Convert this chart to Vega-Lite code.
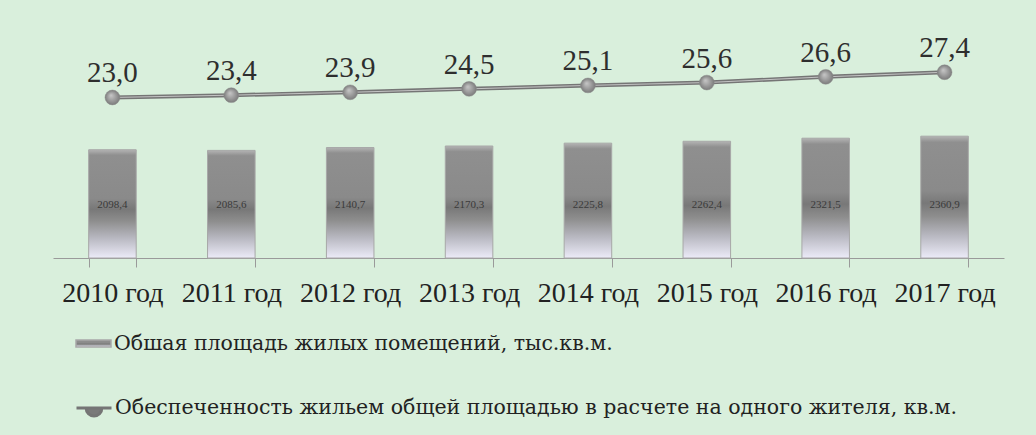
{
  "$schema": "https://vega.github.io/schema/vega-lite/v6.json",
  "width": 951,
  "height": 258,
  "autosize": {"type": "none"},
  "padding": {"left": 53, "top": 0, "right": 32, "bottom": 177},
  "background": "#d9efdc",
  "config": {
    "view": {"stroke": null},
    "font": "Liberation Serif",
    "locale": {"number": {"decimal": ",", "thousands": "", "grouping": [3], "currency": ["", ""]}}
  },
  "data": {
    "values": [
      {"year": "2010 год", "area": 2098.4, "per": 23.0},
      {"year": "2011 год", "area": 2085.6, "per": 23.4},
      {"year": "2012 год", "area": 2140.7, "per": 23.9},
      {"year": "2013 год", "area": 2170.3, "per": 24.5},
      {"year": "2014 год", "area": 2225.8, "per": 25.1},
      {"year": "2015 год", "area": 2262.4, "per": 25.6},
      {"year": "2016 год", "area": 2321.5, "per": 26.6},
      {"year": "2017 год", "area": 2360.9, "per": 27.4}
    ]
  },
  "encoding": {
    "x": {
      "field": "year",
      "type": "nominal",
      "sort": null,
      "scale": {"paddingInner": 0.6, "paddingOuter": 0.3},
      "axis": {
        "title": null,
        "labelFontSize": 28,
        "labelFont": "Liberation Serif",
        "labelColor": "#222222",
        "labelAngle": 0,
        "domainColor": "#9a9a9a",
        "tickColor": "#9a9a9a",
        "tickBand": "extent",
        "tickSize": 9,
        "labelPadding": 12,
        "labelOverlap": false,
        "labelLimit": 0
      }
    }
  },
  "layer": [
    {
      "layer": [
        {
          "mark": {
            "type": "bar",
            "stroke": "#a8a8a8",
            "strokeWidth": 1,
            "color": {
              "gradient": "linear", "x1": 0, "y1": 0, "x2": 0, "y2": 1,
              "stops": [
                {"offset": 0, "color": "#b4b4b4"},
                {"offset": 0.05, "color": "#8f8f8f"},
                {"offset": 0.45, "color": "#8a8a8a"},
                {"offset": 0.55, "color": "#787878"},
                {"offset": 0.66, "color": "#8e8e8e"},
                {"offset": 0.82, "color": "#b9b9c2"},
                {"offset": 1, "color": "#ecebf8"}
              ]
            }
          },
          "encoding": {
            "y": {"field": "area", "type": "quantitative", "scale": {"domain": [0, 4800]}, "axis": null},
            "opacity": {
              "datum": "Обшая площадь жилых помещений, тыс.кв.м.",
              "type": "ordinal",
              "scale": {"range": [1]},
              "legend": {
                "orient": "none",
                "legendX": 22,
                "legendY": 325,
                "title": null,
                "symbolType": "M-1,-0.2H1V0.2H-1Z",
                "symbolSize": 1225,
                "labelFontSize": 20.5,
                "labelFont": "DejaVu Serif",
                "labelColor": "#222222",
                "labelLimit": 0,
                "labelOffset": 2,
                "padding": 0,
                "encode": {"symbols": {"update": {"fill": {"value": "#8a8a8a"}, "stroke": {"value": "#a0a0a0"}, "opacity": {"value": 1}}}}
              }
            }
          }
        },
        {
          "mark": {"type": "text", "fontSize": 11, "color": "#3a3a3a", "baseline": "middle", "font": "Liberation Serif"},
          "encoding": {
            "y": {"datum": 1030, "type": "quantitative"},
            "text": {"field": "area", "type": "quantitative", "format": ".1f"}
          }
        }
      ]
    },
    {
      "layer": [
        {
          "mark": {"type": "line", "strokeWidth": 4},
          "encoding": {
            "y": {"field": "per", "type": "quantitative", "scale": {"domain": [-1.6, 36.2]}, "axis": null},
            "color": {
              "datum": "Обеспеченность жильем общей площадью в расчете на одного жителя, кв.м.",
              "type": "nominal",
              "scale": {"range": ["#757575"]},
              "legend": {
                "orient": "none",
                "legendX": 22,
                "legendY": 389,
                "title": null,
                "symbolType": "M-1,0H1M-0.45,0A0.45,0.45,0,0,0,0.45,0Z",
                "symbolSize": 1225,
                "labelFontSize": 20.5,
                "labelFont": "DejaVu Serif",
                "labelColor": "#222222",
                "labelLimit": 0,
                "labelOffset": 2,
                "padding": 0,
                "encode": {"symbols": {"update": {"fill": {"value": "#7a7a7a"}, "stroke": {"value": "#6f6f6f"}, "strokeWidth": {"value": 3}}}}
              }
            }
          }
        },
        {
          "mark": {"type": "line", "strokeWidth": 1, "color": "#c4c4c4"},
          "encoding": {"y": {"field": "per", "type": "quantitative"}}
        },
        {
          "mark": {
            "type": "point",
            "filled": true,
            "size": 220,
            "opacity": 1,
            "stroke": "#8a8a8a",
            "strokeWidth": 0.5,
            "fill": {
              "gradient": "radial", "x1": 0.4, "y1": 0.35, "r1": 0, "x2": 0.5, "y2": 0.5, "r2": 0.5,
              "stops": [{"offset": 0, "color": "#c8c8c8"}, {"offset": 1, "color": "#7c7c7c"}]
            }
          },
          "encoding": {"y": {"field": "per", "type": "quantitative"}}
        },
        {
          "mark": {"type": "text", "baseline": "alphabetic", "dy": -15, "fontSize": 29, "font": "Liberation Serif", "color": "#2e2e2e"},
          "encoding": {
            "y": {"field": "per", "type": "quantitative"},
            "text": {"field": "per", "type": "quantitative", "format": ".1f"}
          }
        }
      ]
    }
  ],
  "resolve": {"scale": {"y": "independent"}}
}
